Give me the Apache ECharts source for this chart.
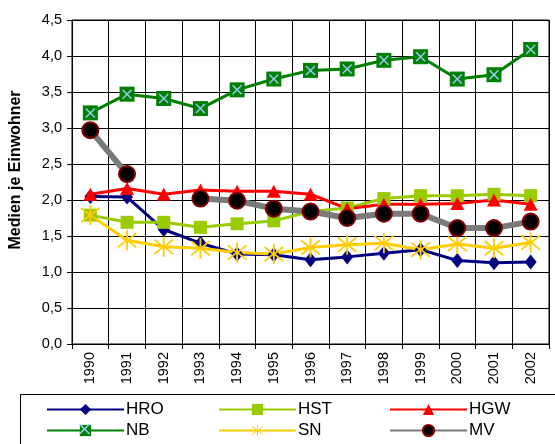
<!DOCTYPE html>
<html><head><meta charset="utf-8">
<script src="https://cdn.jsdelivr.net/npm/echarts@6/dist/echarts.min.js"></script>
<style>html,body{margin:0;padding:0;background:#fff}#c{width:555px;height:444px}</style>
</head><body><div id="c"></div><script>
const years = ['1990','1991','1992','1993','1994','1995','1996','1997','1998','1999','2000','2001','2002'];
const HRO = [2.05,2.04,1.59,1.40,1.25,1.24,1.17,1.21,1.26,1.31,1.16,1.13,1.14];
const HST = [1.79,1.69,1.69,1.62,1.67,1.71,1.84,1.89,2.02,2.06,2.06,2.08,2.06];
const HGW = [2.08,2.16,2.08,2.14,2.12,2.12,2.08,1.88,1.94,1.94,1.95,2.00,1.94];
const NB  = [3.21,3.47,3.41,3.27,3.53,3.68,3.80,3.82,3.94,3.99,3.68,3.74,4.09];
const SN  = [1.79,1.44,1.35,1.33,1.27,1.25,1.34,1.38,1.40,1.31,1.39,1.33,1.41];
const MV  = [2.97,2.36,null,2.02,1.99,1.88,1.84,1.75,1.81,1.81,1.61,1.61,1.70];
const yTitle = 'Medien je Einwohner';

const XPATH = 'path://M0,1 L1,0 L5,4 L9,0 L10,1 L6,5 L10,9 L9,10 L5,6 L1,10 L0,9 L4,5 Z';
const STAR = 'path://M9.2,0 L10.8,0 L10.8,8.6 L17.4,2.2 L18.6,3.4 L11.6,10 L18.6,16.6 L17.4,17.8 L10.8,11.4 L10.8,20 L9.2,20 L9.2,11.4 L2.6,17.8 L1.4,16.6 L8.4,10 L1.4,3.4 L2.6,2.2 L9.2,8.6 Z';

const chart = echarts.init(document.getElementById('c'), null, {renderer:'canvas'});
const font = 'Liberation Sans, Arial, sans-serif';
const legendCommon = {orient:'vertical', padding:0, itemWidth:77, itemHeight:14, itemGap:4,
  textStyle:{fontFamily:font, fontSize:17, color:'#000', padding:[0,0,0,-3]}, selectedMode:false};
chart.setOption({
  animation:false,
  backgroundColor:'#fff',
  textStyle:{fontFamily:font},
  grid:{left:72, right:6, top:20, bottom:100, show:true, borderColor:'#000', borderWidth:1},
  xAxis:{type:'category', data:years, boundaryGap:true,
    axisLine:{lineStyle:{color:'#000', width:1}},
    axisTick:{show:true, length:5, lineStyle:{color:'#000'}},
    axisLabel:{rotate:90, fontSize:14.5, color:'#000', margin:8, fontFamily:font},
    splitLine:{show:true, lineStyle:{color:'#000', width:1}}},
  yAxis:{type:'value', min:0, max:4.5, interval:0.5,
    axisLine:{show:true, lineStyle:{color:'#000'}},
    axisTick:{show:true, length:5, lineStyle:{color:'#000'}},
    axisLabel:{fontSize:14.5, color:'#000', margin:10, fontFamily:font,
      formatter:v=>v.toFixed(1).replace('.',',')},
    splitLine:{show:true, lineStyle:{color:'#000', width:1}}},
  legend:[
    Object.assign({left:46, top:401, data:['HRO','NB']}, legendCommon),
    Object.assign({left:218, top:401, data:['HST','SN']}, legendCommon),
    Object.assign({left:389, top:401, data:['HGW','MV']}, legendCommon),
    Object.assign({}, legendCommon, {left:46, top:422, data:['NBx'], formatter:()=>'', lineStyle:{opacity:0}})
  ],
  graphic:[
    {type:'rect', shape:{x:20.5, y:394.5, width:560, height:60}, style:{fill:'none', stroke:'#000', lineWidth:1}, z:-1},
    {type:'text', x:16, y:170, rotation:Math.PI/2, style:{text:yTitle, font:'bold 16px Liberation Sans, Arial, sans-serif', fill:'#000', textAlign:'center', textVerticalAlign:'middle'}}
  ],
  series:[
    {name:'HRO', type:'line', data:HRO, symbol:'diamond', symbolSize:[12,15],
      lineStyle:{color:'#000080', width:3}, itemStyle:{color:'#000080'}},
    {name:'HST', type:'line', data:HST, symbol:'rect', symbolSize:13,
      lineStyle:{color:'#99CC00', width:3}, itemStyle:{color:'#99CC00'}},
    {name:'HGW', type:'line', data:HGW, symbol:'triangle', symbolSize:[14,13],
      lineStyle:{color:'#FF0000', width:3}, itemStyle:{color:'#FF0000'}},
    {name:'NB', type:'line', data:NB, symbol:'rect', symbolSize:15,
      lineStyle:{color:'#008000', width:3}, itemStyle:{color:'#008000'}},
    {name:'NBx', type:'line', data:NB, symbol:XPATH, symbolSize:10,
      lineStyle:{opacity:0, width:0}, itemStyle:{color:'#99CCFF'}, z:3},
    {name:'SN', type:'line', data:SN, symbol:STAR, symbolSize:20,
      lineStyle:{color:'#FFCC00', width:3}, itemStyle:{color:'#FFCC00'}},
    {name:'MV', type:'line', data:MV, symbol:'circle', symbolSize:16, connectNulls:false,
      lineStyle:{color:'#7a7a7a', width:6}, itemStyle:{color:'#000', borderColor:'#800000', borderWidth:2}}
  ]
});
</script></body></html>
